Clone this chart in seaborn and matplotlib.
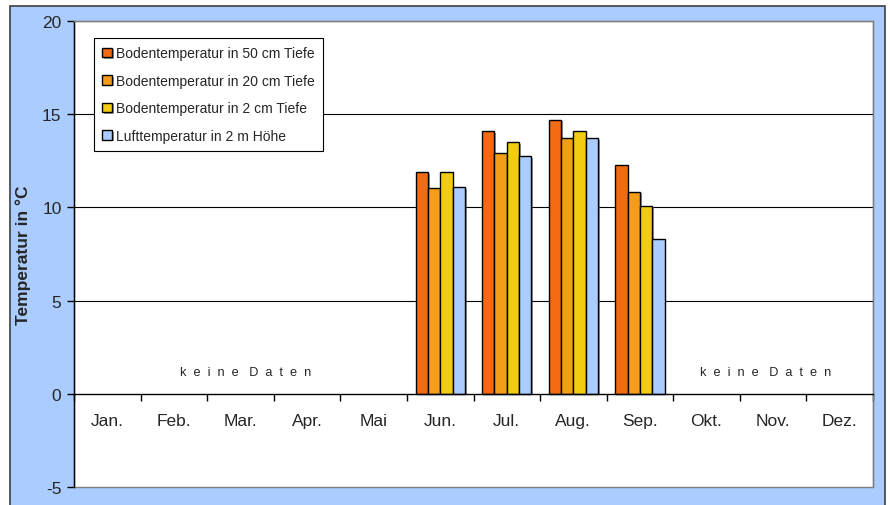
import numpy as np
import pandas as pd
import matplotlib
matplotlib.use("Agg")
import matplotlib.pyplot as plt
import matplotlib.patheffects as pe
from matplotlib.patches import Rectangle
import seaborn as sns

months = ["Jan.", "Feb.", "Mar.", "Apr.", "Mai", "Jun.", "Jul.", "Aug.", "Sep.", "Okt.", "Nov.", "Dez."]
data_months = ["Jun.", "Jul.", "Aug.", "Sep."]
series_names = ["Bodentemperatur in 50 cm Tiefe", "Bodentemperatur in 20 cm Tiefe",
                "Bodentemperatur in 2 cm Tiefe", "Lufttemperatur in 2 m Höhe"]
boden_50 = [11.9, 14.1, 14.7, 12.3]
boden_20 = [11.05, 12.9, 13.75, 10.85]
boden_2 = [11.9, 13.5, 14.1, 10.1]
luft_2m = [11.1, 12.75, 13.7, 8.3]
colors = ["#f26a12", "#f59c18", "#f2cc12", "#aaccff"]
yticks = [-5, 0, 5, 10, 15, 20]

rows = []
for name, vals in zip(series_names, [boden_50, boden_20, boden_2, luft_2m]):
    for m, v in zip(data_months, vals):
        rows.append({"Monat": m, "Serie": name, "Temp": v})
df = pd.DataFrame(rows)

sns.set_theme(style="white")
plt.rcParams["font.family"] = ["Liberation Sans", "DejaVu Sans"]

fig = plt.figure(figsize=(8.9, 5.06), dpi=100)
fig.patch.set_facecolor("white")
fig.patches.append(Rectangle((10 / 890, -0.02), 875 / 890, 1 - 7 / 506 + 0.02,
                             transform=fig.transFigure, facecolor="#aaccff",
                             edgecolor="#404040", linewidth=1.2, zorder=-10))
ax = fig.add_axes([74 / 890, 1 - 488 / 506, (873 - 74) / 890, (488 - 22) / 506])
ax.set_facecolor("white")

sns.barplot(data=df, x="Monat", y="Temp", hue="Serie", order=months,
            hue_order=series_names, palette=colors, saturation=1, width=0.74, gap=0,
            edgecolor="black", linewidth=1.0, errorbar=None, ax=ax, zorder=3)

for p in ax.patches:
    p.set_path_effects([pe.SimplePatchShadow(offset=(1.2, -1.2), shadow_rgbFace="#555555", alpha=0.6),
                        pe.Normal()])

ax.set_ylim(-5, 20)
ax.set_xlim(-0.5, 11.5)
for g in [5, 10, 15]:
    ax.axhline(g, color="black", linewidth=0.8, zorder=1)

ax.set_yticks(yticks)
ax.set_yticklabels([str(t) for t in yticks], fontsize=12.5)
ax.tick_params(axis="y", direction="out", length=5, width=1, color="black", pad=4, left=True)

for s in ["top", "right"]:
    ax.spines[s].set_color("#808080")
    ax.spines[s].set_linewidth(1)
ax.spines["left"].set_color("black")
ax.spines["left"].set_linewidth(1)
ax.spines["bottom"].set_position(("data", 0))
ax.spines["bottom"].set_color("black")
ax.spines["bottom"].set_linewidth(1)
ax.spines["bottom"].set_zorder(4)
ax.add_patch(Rectangle((0, 0), 1, 1, transform=ax.transAxes, fill=False,
                       edgecolor="#808080", linewidth=1, zorder=0, clip_on=False))

ax.set_xticks(range(12))
ax.set_xticklabels(months, fontsize=12.5)
ax.set_xticks(np.arange(-0.5, 12, 1), minor=True)
ax.tick_params(axis="x", which="major", length=0, pad=14, bottom=True)
ax.tick_params(axis="x", which="minor", direction="out", length=5, width=1, color="black", bottom=True)

ax.set_xlabel("")
ax.set_ylabel("Temperatur in °C", fontsize=12.5, fontweight="bold", labelpad=8)

kd = "k  e  i  n  e   D  a  t  e  n"
ax.text(0.215, 1.18, kd, transform=ax.get_yaxis_transform(), ha="center", va="center", fontsize=9.2)
ax.text(0.866, 1.18, kd, transform=ax.get_yaxis_transform(), ha="center", va="center", fontsize=9.2)

handles, labels = ax.get_legend_handles_labels()
leg = ax.legend(handles, labels, loc="upper left", bbox_to_anchor=(0.025, 0.9635),
                borderaxespad=0, fontsize=10, frameon=True, fancybox=False,
                framealpha=1, edgecolor="black", handlelength=0.7, handleheight=0.7,
                handletextpad=0.25, labelspacing=0.97, borderpad=0.6)
leg.get_frame().set_linewidth(0.8)
leg.set_zorder(5)

fig.savefig("out.png", dpi=100)
